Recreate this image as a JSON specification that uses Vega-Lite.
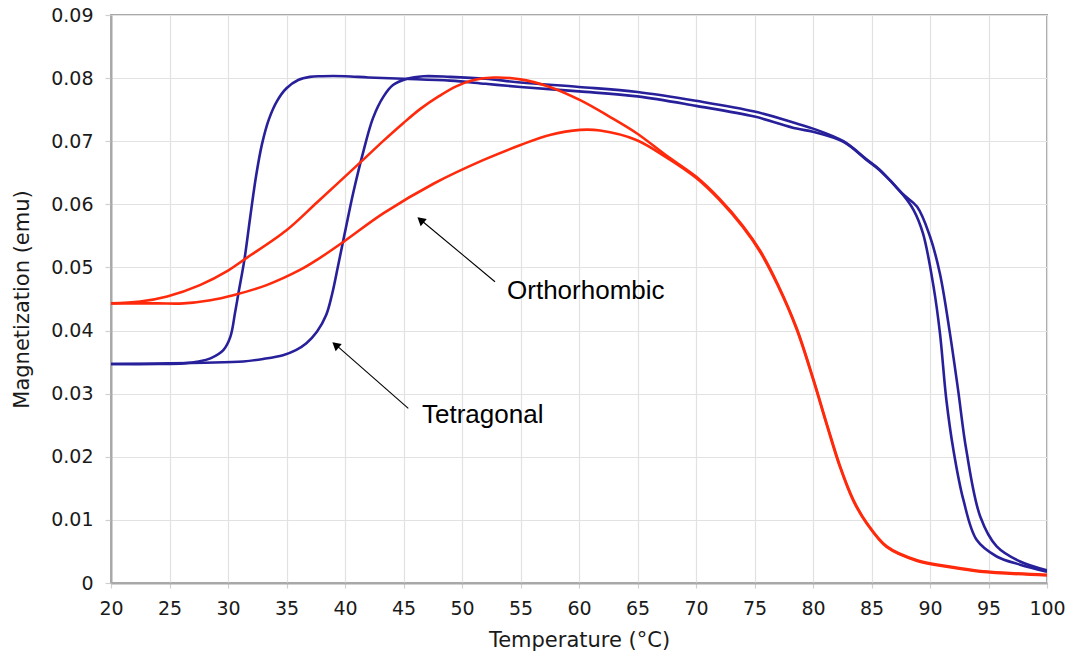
{
  "$schema": "https://vega.github.io/schema/vega-lite/v6.json",
  "autosize": {"type": "none"},
  "width": 936,
  "height": 568,
  "padding": {"left": 111, "top": 15, "right": 23, "bottom": 73},
  "background": "white",
  "config": {
    "view": {"stroke": "#a8a8a8", "strokeWidth": 2},
    "axis": {
      "labelFont": "DejaVu Sans",
      "titleFont": "DejaVu Sans",
      "labelFontSize": 19,
      "titleFontSize": 21,
      "titleFontWeight": "normal",
      "labelColor": "#1a1a1a",
      "titleColor": "#1a1a1a",
      "gridColor": "#e2e2e2",
      "gridWidth": 1.2,
      "domainColor": "#a8a8a8",
      "domainWidth": 2,
      "tickColor": "#cfcfcf",
      "tickWidth": 1.2,
      "labelFlush": false,
      "labelOverlap": false
    }
  },
  "datasets": {
    "curves": [
      {"curve": "blueA", "T": 20, "M": 0.0347},
      {"curve": "blueA", "T": 24, "M": 0.0347},
      {"curve": "blueA", "T": 26.2, "M": 0.0348},
      {"curve": "blueA", "T": 27.5, "M": 0.0351},
      {"curve": "blueA", "T": 28.5, "M": 0.0356},
      {"curve": "blueA", "T": 29.6, "M": 0.0369},
      {"curve": "blueA", "T": 30.2, "M": 0.039},
      {"curve": "blueA", "T": 30.6, "M": 0.0428},
      {"curve": "blueA", "T": 30.9, "M": 0.046},
      {"curve": "blueA", "T": 31.4, "M": 0.0512},
      {"curve": "blueA", "T": 31.9, "M": 0.058},
      {"curve": "blueA", "T": 32.4, "M": 0.0645},
      {"curve": "blueA", "T": 32.9, "M": 0.0695},
      {"curve": "blueA", "T": 33.5, "M": 0.0735},
      {"curve": "blueA", "T": 34.2, "M": 0.0764},
      {"curve": "blueA", "T": 35, "M": 0.0784},
      {"curve": "blueA", "T": 36, "M": 0.0797},
      {"curve": "blueA", "T": 37, "M": 0.0802},
      {"curve": "blueA", "T": 38, "M": 0.0803},
      {"curve": "blueA", "T": 40, "M": 0.0803},
      {"curve": "blueA", "T": 42, "M": 0.0801},
      {"curve": "blueA", "T": 45, "M": 0.0799},
      {"curve": "blueA", "T": 49, "M": 0.0796},
      {"curve": "blueA", "T": 52, "M": 0.0791},
      {"curve": "blueA", "T": 55, "M": 0.0786},
      {"curve": "blueA", "T": 60, "M": 0.0779},
      {"curve": "blueA", "T": 65, "M": 0.0771},
      {"curve": "blueA", "T": 70, "M": 0.0756},
      {"curve": "blueA", "T": 75, "M": 0.0739},
      {"curve": "blueA", "T": 78.6, "M": 0.072},
      {"curve": "blueA", "T": 80, "M": 0.0715},
      {"curve": "blueA", "T": 82.6, "M": 0.0699},
      {"curve": "blueA", "T": 84.6, "M": 0.067},
      {"curve": "blueA", "T": 85.7, "M": 0.0654},
      {"curve": "blueA", "T": 87.7, "M": 0.0615},
      {"curve": "blueA", "T": 88.6, "M": 0.0591},
      {"curve": "blueA", "T": 89.4, "M": 0.0554},
      {"curve": "blueA", "T": 90.3, "M": 0.047},
      {"curve": "blueA", "T": 90.85, "M": 0.0396},
      {"curve": "blueA", "T": 91.4, "M": 0.029},
      {"curve": "blueA", "T": 92, "M": 0.0211},
      {"curve": "blueA", "T": 92.85, "M": 0.0132},
      {"curve": "blueA", "T": 94, "M": 0.0068},
      {"curve": "blueA", "T": 95.7, "M": 0.0042},
      {"curve": "blueA", "T": 97.7, "M": 0.0029},
      {"curve": "blueA", "T": 100, "M": 0.0018},

      {"curve": "blueB", "T": 20, "M": 0.0347},
      {"curve": "blueB", "T": 25, "M": 0.0348},
      {"curve": "blueB", "T": 28, "M": 0.0349},
      {"curve": "blueB", "T": 31.3, "M": 0.0351},
      {"curve": "blueB", "T": 33, "M": 0.0355},
      {"curve": "blueB", "T": 34.7, "M": 0.0361},
      {"curve": "blueB", "T": 35.8, "M": 0.0369},
      {"curve": "blueB", "T": 36.7, "M": 0.038},
      {"curve": "blueB", "T": 37.6, "M": 0.0398},
      {"curve": "blueB", "T": 38.4, "M": 0.0425},
      {"curve": "blueB", "T": 38.9, "M": 0.0458},
      {"curve": "blueB", "T": 39.4, "M": 0.0502},
      {"curve": "blueB", "T": 40, "M": 0.0556},
      {"curve": "blueB", "T": 40.7, "M": 0.0618},
      {"curve": "blueB", "T": 41.6, "M": 0.0686},
      {"curve": "blueB", "T": 42.4, "M": 0.0737},
      {"curve": "blueB", "T": 43.3, "M": 0.0771},
      {"curve": "blueB", "T": 44.1, "M": 0.0789},
      {"curve": "blueB", "T": 45.3, "M": 0.0799},
      {"curve": "blueB", "T": 46.7, "M": 0.0803},
      {"curve": "blueB", "T": 49, "M": 0.0802},
      {"curve": "blueB", "T": 52, "M": 0.0799},
      {"curve": "blueB", "T": 55, "M": 0.0793},
      {"curve": "blueB", "T": 60, "M": 0.0786},
      {"curve": "blueB", "T": 65, "M": 0.0778},
      {"curve": "blueB", "T": 70, "M": 0.0764},
      {"curve": "blueB", "T": 75, "M": 0.0747},
      {"curve": "blueB", "T": 78.6, "M": 0.0728},
      {"curve": "blueB", "T": 80, "M": 0.072},
      {"curve": "blueB", "T": 82.6, "M": 0.07},
      {"curve": "blueB", "T": 84.6, "M": 0.0671},
      {"curve": "blueB", "T": 85.7, "M": 0.0655},
      {"curve": "blueB", "T": 87.7, "M": 0.0616},
      {"curve": "blueB", "T": 88.9, "M": 0.0596},
      {"curve": "blueB", "T": 90, "M": 0.0549},
      {"curve": "blueB", "T": 90.85, "M": 0.049},
      {"curve": "blueB", "T": 91.7, "M": 0.0396},
      {"curve": "blueB", "T": 92.4, "M": 0.0306},
      {"curve": "blueB", "T": 93.1, "M": 0.0211},
      {"curve": "blueB", "T": 94.3, "M": 0.0105},
      {"curve": "blueB", "T": 95.7, "M": 0.0058},
      {"curve": "blueB", "T": 97.7, "M": 0.0034},
      {"curve": "blueB", "T": 100, "M": 0.002},

      {"curve": "redA", "T": 20, "M": 0.0443},
      {"curve": "redA", "T": 22.5, "M": 0.0446},
      {"curve": "redA", "T": 24.8, "M": 0.0454},
      {"curve": "redA", "T": 27.6, "M": 0.0472},
      {"curve": "redA", "T": 30, "M": 0.0495},
      {"curve": "redA", "T": 31.5, "M": 0.0514},
      {"curve": "redA", "T": 35, "M": 0.0559},
      {"curve": "redA", "T": 37.6, "M": 0.0603},
      {"curve": "redA", "T": 41.4, "M": 0.0668},
      {"curve": "redA", "T": 43.3, "M": 0.0701},
      {"curve": "redA", "T": 45, "M": 0.0729},
      {"curve": "redA", "T": 46.5, "M": 0.0752},
      {"curve": "redA", "T": 48, "M": 0.0771},
      {"curve": "redA", "T": 49.5, "M": 0.0787},
      {"curve": "redA", "T": 51, "M": 0.0797},
      {"curve": "redA", "T": 52.7, "M": 0.0801},
      {"curve": "redA", "T": 55, "M": 0.0798},
      {"curve": "redA", "T": 57.5, "M": 0.0786},
      {"curve": "redA", "T": 60.1, "M": 0.0765},
      {"curve": "redA", "T": 62.6, "M": 0.0739},
      {"curve": "redA", "T": 64.9, "M": 0.0713},
      {"curve": "redA", "T": 67.5, "M": 0.0677},
      {"curve": "redA", "T": 70, "M": 0.0644},
      {"curve": "redA", "T": 72, "M": 0.0609},
      {"curve": "redA", "T": 74, "M": 0.0566},
      {"curve": "redA", "T": 75.5, "M": 0.0526},
      {"curve": "redA", "T": 77, "M": 0.0473},
      {"curve": "redA", "T": 78.6, "M": 0.0404},
      {"curve": "redA", "T": 80, "M": 0.0325},
      {"curve": "redA", "T": 81.2, "M": 0.0251},
      {"curve": "redA", "T": 82.3, "M": 0.0186},
      {"curve": "redA", "T": 83.45, "M": 0.0132},
      {"curve": "redA", "T": 84.6, "M": 0.0095},
      {"curve": "redA", "T": 86.3, "M": 0.0058},
      {"curve": "redA", "T": 88.9, "M": 0.0036},
      {"curve": "redA", "T": 91.7, "M": 0.0026},
      {"curve": "redA", "T": 94.3, "M": 0.0019},
      {"curve": "redA", "T": 100, "M": 0.0013},

      {"curve": "redB", "T": 20, "M": 0.0443},
      {"curve": "redB", "T": 24, "M": 0.0443},
      {"curve": "redB", "T": 26.2, "M": 0.0443},
      {"curve": "redB", "T": 28.5, "M": 0.0448},
      {"curve": "redB", "T": 30.45, "M": 0.0456},
      {"curve": "redB", "T": 33.3, "M": 0.0472},
      {"curve": "redB", "T": 36.15, "M": 0.0496},
      {"curve": "redB", "T": 37.6, "M": 0.0512},
      {"curve": "redB", "T": 39.9, "M": 0.0541},
      {"curve": "redB", "T": 43.3, "M": 0.0586},
      {"curve": "redB", "T": 47.6, "M": 0.0633},
      {"curve": "redB", "T": 51.8, "M": 0.067},
      {"curve": "redB", "T": 55, "M": 0.0694},
      {"curve": "redB", "T": 57.5, "M": 0.071},
      {"curve": "redB", "T": 60.1, "M": 0.0718},
      {"curve": "redB", "T": 61.8, "M": 0.0717},
      {"curve": "redB", "T": 64.9, "M": 0.0702},
      {"curve": "redB", "T": 67.5, "M": 0.0674},
      {"curve": "redB", "T": 70, "M": 0.0642},
      {"curve": "redB", "T": 72, "M": 0.0607},
      {"curve": "redB", "T": 74, "M": 0.0564},
      {"curve": "redB", "T": 75.5, "M": 0.0524},
      {"curve": "redB", "T": 77, "M": 0.0471},
      {"curve": "redB", "T": 78.6, "M": 0.0402},
      {"curve": "redB", "T": 80, "M": 0.0323},
      {"curve": "redB", "T": 81.2, "M": 0.0249},
      {"curve": "redB", "T": 82.3, "M": 0.0184},
      {"curve": "redB", "T": 83.45, "M": 0.013},
      {"curve": "redB", "T": 84.6, "M": 0.0094},
      {"curve": "redB", "T": 86.3, "M": 0.0057},
      {"curve": "redB", "T": 88.9, "M": 0.0035},
      {"curve": "redB", "T": 91.7, "M": 0.0025},
      {"curve": "redB", "T": 94.3, "M": 0.0018},
      {"curve": "redB", "T": 100, "M": 0.0012}
    ],
    "arrows": [
      {"label": "Orthorhombic", "T": 52.82, "M": 0.04774, "T2": 46.3, "M2": 0.0578},
      {"label": "Tetragonal", "T": 45.41, "M": 0.02768, "T2": 39.05, "M2": 0.038}
    ],
    "heads": [
      {"label": "Orthorhombic", "T": 46.46, "M": 0.05753},
      {"label": "Tetragonal", "T": 39.19, "M": 0.03771}
    ],
    "labels": [
      {"label": "Orthorhombic", "T": 53.85, "M": 0.045},
      {"label": "Tetragonal", "T": 46.58, "M": 0.0254}
    ]
  },
  "layer": [
    {
      "data": {"name": "curves"},
      "mark": {"type": "line", "interpolate": "catmull-rom", "strokeWidth": 2.6, "clip": true},
      "encoding": {
        "x": {
          "field": "T", "type": "quantitative",
          "scale": {"domain": [20, 100], "nice": false, "zero": false},
          "axis": {
            "title": "Temperature (°C)",
            "values": [20, 25, 30, 35, 40, 45, 50, 55, 60, 65, 70, 75, 80, 85, 90, 95, 100],
            "tickSize": 5,
            "labelPadding": 11,
            "titleY": 57,
            "titleBaseline": "middle"
          }
        },
        "y": {
          "field": "M", "type": "quantitative",
          "scale": {"domain": [0, 0.09], "nice": false},
          "axis": {
            "title": "Magnetization (emu)",
            "values": [0, 0.01, 0.02, 0.03, 0.04, 0.05, 0.06, 0.07, 0.08, 0.09],
            "format": ".2~f",
            "tickSize": 6,
            "labelPadding": 12,
            "titleX": -89,
            "titleY": 284,
            "titleAlign": "center",
            "titleBaseline": "middle",
            "titleAngle": -90
          }
        },
        "color": {
          "field": "curve", "type": "nominal",
          "scale": {"domain": ["blueA", "blueB", "redA", "redB"], "range": ["#27209a", "#27209a", "#ff2a0c", "#ff2a0c"]},
          "legend": null
        },
        "detail": {"field": "curve"}
      }
    },
    {
      "data": {"name": "arrows"},
      "mark": {"type": "rule", "color": "black", "strokeWidth": 1.1},
      "encoding": {
        "x": {"field": "T", "type": "quantitative"},
        "y": {"field": "M", "type": "quantitative"},
        "x2": {"field": "T2"},
        "y2": {"field": "M2"}
      }
    },
    {
      "data": {"name": "heads"},
      "mark": {"type": "point", "shape": "triangle-up", "filled": true, "color": "black", "size": 90, "angle": 310, "opacity": 1},
      "encoding": {
        "x": {"field": "T", "type": "quantitative"},
        "y": {"field": "M", "type": "quantitative"}
      }
    },
    {
      "data": {"name": "labels"},
      "mark": {"type": "text", "font": "Liberation Sans", "fontSize": 26, "align": "left", "baseline": "alphabetic", "color": "black"},
      "encoding": {
        "x": {"field": "T", "type": "quantitative"},
        "y": {"field": "M", "type": "quantitative"},
        "text": {"field": "label"}
      }
    }
  ]
}
